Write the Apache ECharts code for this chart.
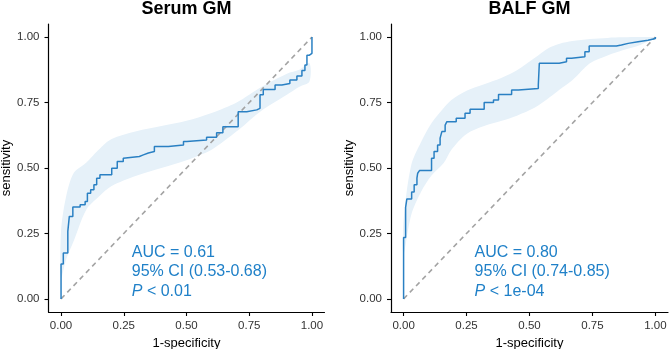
<!DOCTYPE html>
<html>
<head>
<meta charset="utf-8">
<script src="https://cdn.jsdelivr.net/npm/echarts@6/dist/echarts.min.js"></script>
<style>
  html, body { margin: 0; padding: 0; background: #fff; }
  #chart { width: 669px; height: 349px; }
</style>
</head>
<body>
<div id="chart"></div>
<script>
// ROC step points (1-specificity, sensitivity)
const serumFpr = [0, 0, 0.009, 0.027, 0.033, 0.047, 0.076, 0.096, 0.105, 0.118, 0.131, 0.142, 0.155, 0.202, 0.224, 0.248, 0.255, 0.312, 0.328, 0.348, 0.372, 0.428, 0.488, 0.501, 0.58, 0.62, 0.645, 0.706, 0.74, 0.78, 0.793, 0.806, 0.853, 0.88, 0.912, 0.94, 0.96, 0.972, 0.98, 0.99]
const serumTpr = [0, 0.133, 0.175, 0.258, 0.315, 0.351, 0.36, 0.372, 0.404, 0.417, 0.436, 0.461, 0.474, 0.499, 0.525, 0.537, 0.544, 0.55, 0.557, 0.563, 0.582, 0.588, 0.601, 0.607, 0.617, 0.635, 0.658, 0.715, 0.722, 0.728, 0.78, 0.8, 0.817, 0.823, 0.836, 0.851, 0.872, 0.893, 0.931, 0.938]
const balfFpr = [0, 0, 0.008, 0.013, 0.032, 0.042, 0.053, 0.056, 0.063, 0.111, 0.121, 0.135, 0.145, 0.152, 0.165, 0.172, 0.209, 0.244, 0.264, 0.32, 0.357, 0.377, 0.429, 0.456, 0.535, 0.539, 0.618, 0.647, 0.667, 0.72, 0.737, 0.845, 0.865, 0.892, 0.931, 0.971, 1]
const balfTpr = [0, 0.235, 0.35, 0.382, 0.408, 0.436, 0.461, 0.48, 0.49, 0.537, 0.563, 0.588, 0.614, 0.639, 0.664, 0.677, 0.69, 0.709, 0.724, 0.75, 0.76, 0.781, 0.798, 0.804, 0.817, 0.9, 0.906, 0.919, 0.925, 0.944, 0.966, 0.97, 0.976, 0.982, 0.988, 0.995, 1]

// 95% CI band of sensitivity
const serumCiX = [0, 0.02, 0.05, 0.1, 0.15, 0.2, 0.3, 0.4, 0.5, 0.6, 0.7, 0.8, 0.9, 0.95, 0.99]
const serumCiLow = [0.08, 0.15, 0.22, 0.34, 0.39, 0.43, 0.47, 0.5, 0.53, 0.57, 0.64, 0.72, 0.78, 0.81, 0.83]
const serumCiHigh = [0.26, 0.39, 0.48, 0.52, 0.57, 0.61, 0.64, 0.66, 0.68, 0.71, 0.75, 0.81, 0.86, 0.875, 0.9]
const balfCiX = [0, 0.03, 0.07, 0.11, 0.16, 0.19, 0.25, 0.32, 0.39, 0.45, 0.52, 0.58, 0.62, 0.67, 0.74, 0.81, 0.87, 0.94, 1]
const balfCiLow = [0.17, 0.32, 0.41, 0.47, 0.52, 0.57, 0.63, 0.66, 0.68, 0.7, 0.73, 0.77, 0.8, 0.835, 0.9, 0.93, 0.95, 0.97, 1]
const balfCiHigh = [0.3, 0.51, 0.6, 0.67, 0.73, 0.76, 0.795, 0.82, 0.845, 0.873, 0.92, 0.96, 0.975, 0.985, 0.993, 0.997, 0.999, 1, 1]

const tickValues = [0, 0.25, 0.5, 0.75, 1]
const titles = ['Serum GM', 'BALF GM']
const serumNotes = ['AUC = 0.61', '95% CI (0.53-0.68)', '{i|P} < 0.01']
const balfNotes = ['AUC = 0.80', '95% CI (0.74-0.85)', '{i|P} < 1e-04']
const noteX = [0.282, 0.282, 0.282]
const noteY = [0.178, 0.104, 0.027]

const blue = '#2a80c3'
const textBlue = '#1f80c8'
const font = 'Liberation Sans, Arial, sans-serif'

const zip = (a, b) => a.map((v, i) => [v, b[i]])

function bandSeries(idx, xs, lo, hi) {
  return {
    type: 'custom',
    xAxisIndex: idx,
    yAxisIndex: idx,
    data: xs.map((x, i) => [x, lo[i], hi[i]]),
    silent: true,
    renderItem: function (params, api) {
      if (params.dataIndex !== 0) return null
      const pts = []
      xs.forEach((x, i) => pts.push(api.coord([x, hi[i]])))
      for (let i = xs.length - 1; i >= 0; i--) pts.push(api.coord([xs[i], lo[i]]))
      return {
        type: 'polygon',
        shape: { points: pts, smooth: 0.3 },
        style: { fill: '#e6f1f9' }
      }
    }
  }
}

function noteSeries(idx, lines) {
  return {
    type: 'custom',
    xAxisIndex: idx,
    yAxisIndex: idx,
    data: zip(noteX, noteY),
    silent: true,
    z: 5,
    renderItem: function (params, api) {
      const p = api.coord([api.value(0), api.value(1)])
      return {
        type: 'text',
        x: p[0],
        y: p[1],
        style: {
          text: lines[params.dataIndex],
          fill: textBlue,
          fontSize: 16,
          fontFamily: font,
          align: 'left',
          verticalAlign: 'middle',
          rich: { i: { fontStyle: 'italic', fontSize: 16, fontFamily: font, fill: textBlue } }
        }
      }
    }
  }
}

function makeAxis(idx, type) {
  const ax = {
    type: 'value',
    gridIndex: idx,
    min: -0.05,
    max: 1.05,
    splitLine: { show: false },
    axisLine: { show: true, onZero: false, lineStyle: { color: '#000', width: 1.2 } },
    axisTick: { show: true, length: 4, customValues: tickValues, lineStyle: { color: '#000', width: 1.1 } },
    axisLabel: {
      customValues: tickValues,
      formatter: v => v.toFixed(2),
      color: '#333',
      fontSize: 11.5,
      fontFamily: font,
      margin: type === 'x' ? 8 : 9
    },
    nameLocation: 'middle',
    nameTextStyle: { color: '#000', fontSize: 13, fontFamily: font }
  }
  if (type === 'x') {
    ax.name = '1-specificity'
    ax.nameGap = 22
  } else {
    ax.name = 'sensitivity'
    ax.nameGap = 34
  }
  return ax
}

const chart = echarts.init(document.getElementById('chart'))

const option = {
  animation: false,
  backgroundColor: '#fff',
  grid: [
    { left: 48.5, top: 24, width: 276, height: 288, outerBoundsMode: 'none', containLabel: false },
    { left: 391, top: 24, width: 277, height: 288, outerBoundsMode: 'none', containLabel: false }
  ],
  xAxis: [makeAxis(0, 'x'), makeAxis(1, 'x')],
  yAxis: [makeAxis(0, 'y'), makeAxis(1, 'y')],
  graphic: [
    { type: 'text', x: 186.5, y: 9, style: { text: titles[0], fontSize: 18, fontWeight: 'bold', fontFamily: font, fill: '#000', align: 'center', verticalAlign: 'middle' } },
    { type: 'text', x: 529.5, y: 9, style: { text: titles[1], fontSize: 18, fontWeight: 'bold', fontFamily: font, fill: '#000', align: 'center', verticalAlign: 'middle' } }
  ],
  series: [
    bandSeries(0, serumCiX, serumCiLow, serumCiHigh),
    bandSeries(1, balfCiX, balfCiLow, balfCiHigh),
    {
      type: 'line', xAxisIndex: 0, yAxisIndex: 0, data: [[0, 0], [1, 1]],
      symbol: 'none', silent: true,
      lineStyle: { color: '#a3a3a3', width: 1.6, type: [5, 4] }
    },
    {
      type: 'line', xAxisIndex: 1, yAxisIndex: 1, data: [[0, 0], [1, 1]],
      symbol: 'none', silent: true,
      lineStyle: { color: '#a3a3a3', width: 1.6, type: [5, 4] }
    },
    {
      type: 'line', xAxisIndex: 0, yAxisIndex: 0, step: 'end',
      data: zip(serumFpr, serumTpr).concat([[1, 1]]),
      symbol: 'none', z: 4,
      lineStyle: { color: blue, width: 1.5 }
    },
    {
      type: 'line', xAxisIndex: 1, yAxisIndex: 1, step: 'end',
      data: zip(balfFpr, balfTpr),
      symbol: 'none', z: 4,
      lineStyle: { color: blue, width: 1.5 }
    },
    noteSeries(0, serumNotes),
    noteSeries(1, balfNotes)
  ]
}

chart.setOption(option)
</script>
</body>
</html>
